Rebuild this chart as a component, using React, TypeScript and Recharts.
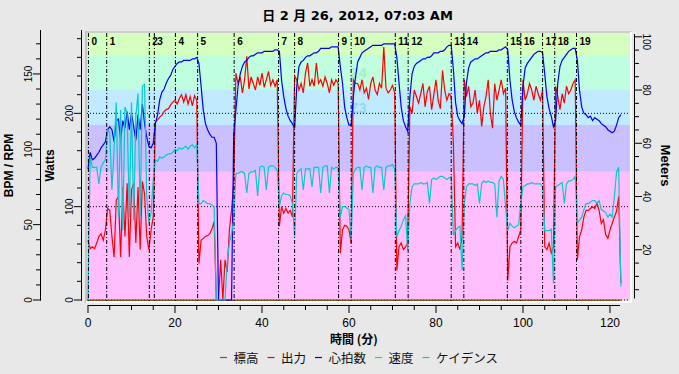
import { Line, LineChart, ReferenceArea, ReferenceLine, XAxis, YAxis } from 'recharts';

// one reading every half minute, t = 0 … 122.5 min
const SAMPLE_MIN = 0.5;

// 心拍数 (bpm)
const heartRate = [
  87, 98, 93, 94, 96, 98, 101, 103, 105, 113, 115, 113, 105, 119, 120, 106, 119, 114, 125, 113,
  124, 115, 106, 123, 113, 130, 117, 108, 102, 101, 104, 117, 123, 133, 138, 140, 144, 147, 149, 153,
  155, 157, 158, 158, 159, 159, 159, 159, 160, 160, 161, 157, 142, 126, 117, 113, 110, 108, 108, 104,
  0, 0, 0, 0, 0, 0, 0, 110, 126, 142, 150, 155, 158, 159, 161, 162, 162, 163, 164, 164,
  164, 165, 165, 165, 165, 165, 166, 166, 165, 146, 135, 127, 122, 119, 117, 114, 142, 155, 158, 159,
  161, 162, 162, 163, 164, 164, 165, 167, 167, 167, 167, 167, 168, 168, 168, 168, 155, 144, 128, 121,
  116, 116, 135, 148, 158, 161, 164, 165, 166, 167, 168, 169, 169, 169, 169, 169, 170, 170, 170, 170,
  170, 170, 161, 144, 128, 119, 115, 112, 135, 150, 155, 157, 158, 159, 160, 160, 161, 161, 162, 164,
  164, 164, 165, 165, 166, 168, 169, 169, 153, 131, 122, 119, 117, 122, 144, 154, 158, 159, 160, 160,
  161, 162, 163, 164, 164, 165, 165, 165, 165, 166, 166, 167, 168, 166, 146, 133, 125, 121, 118, 116,
  142, 154, 157, 159, 161, 163, 164, 165, 165, 164, 150, 135, 127, 122, 115, 119, 144, 155, 159, 161,
  163, 165, 166, 167, 167, 159, 139, 128, 124, 123, 121, 122, 119, 121, 120, 119, 117, 116, 115, 113,
  112, 111, 112, 116, 121, 123,
];

// 出力 (W)
const power = [
  64, 55, 57, 55, 61, 68, 71, 64, 75, 98, 96, 68, 46, 107, 111, 46, 121, 68, 125, 46,
  118, 125, 61, 121, 54, 127, 114, 68, 54, 75, 89, 191, 193, 196, 198, 202, 204, 205, 209, 212,
  214, 210, 216, 220, 212, 220, 210, 218, 208, 219, 214, 39, 64, 66, 68, 69, 71, 76, 84, 0,
  0, 43, 0, 43, 30, 75, 96, 125, 243, 232, 239, 222, 236, 261, 226, 239, 232, 225, 239, 230,
  243, 228, 236, 245, 230, 236, 229, 236, 79, 100, 93, 98, 93, 96, 89, 240, 236, 225, 232, 222,
  243, 254, 229, 236, 229, 254, 232, 236, 229, 239, 232, 222, 236, 230, 236, 232, 50, 75, 80, 79,
  75, 61, 236, 232, 232, 225, 236, 222, 227, 215, 232, 239, 225, 220, 232, 227, 271, 227, 222, 225,
  230, 222, 32, 57, 61, 54, 57, 61, 207, 200, 225, 218, 211, 221, 232, 207, 223, 229, 204, 220,
  236, 214, 205, 246, 225, 214, 221, 218, 168, 57, 61, 54, 68, 236, 218, 229, 207, 211, 225, 200,
  214, 186, 207, 218, 236, 200, 184, 232, 214, 225, 236, 221, 227, 21, 57, 61, 63, 61, 68, 75,
  236, 214, 221, 232, 225, 214, 229, 221, 214, 225, 57, 54, 61, 50, 57, 229, 218, 204, 221, 211,
  229, 221, 225, 232, 236, 43, 68, 75, 89, 96, 96, 98, 100, 98, 104, 96, 82, 86, 70, 66,
  75, 82, 89, 95, 111, 18,
];

// ケイデンス (rpm)
const cadence = [
  0, 95, 88, 88, 88, 77, 88, 91, 93, 113, 111, 73, 100, 131, 55, 126, 46, 128, 124, 55,
  131, 53, 122, 137, 55, 142, 143, 69, 51, 58, 80, 93, 92, 95, 94, 95, 96, 97, 97, 98,
  100, 99, 101, 100, 101, 102, 100, 102, 103, 101, 103, 64, 64, 66, 65, 64, 64, 63, 62, 0,
  0, 0, 0, 0, 25, 38, 44, 53, 84, 84, 85, 85, 84, 71, 84, 85, 85, 86, 69, 88,
  89, 88, 73, 88, 89, 89, 88, 86, 62, 69, 71, 70, 70, 69, 64, 42, 84, 86, 87, 73,
  87, 87, 87, 75, 88, 88, 88, 71, 88, 89, 89, 71, 88, 87, 88, 88, 55, 62, 62, 61,
  60, 40, 84, 87, 88, 88, 73, 88, 89, 88, 88, 71, 88, 89, 88, 88, 73, 88, 89, 89,
  90, 87, 42, 46, 49, 53, 56, 33, 64, 75, 77, 77, 77, 78, 77, 77, 78, 64, 80, 81,
  80, 81, 82, 82, 81, 80, 81, 82, 43, 46, 48, 49, 20, 64, 75, 77, 77, 77, 76, 77,
  64, 77, 79, 78, 79, 78, 78, 77, 55, 79, 82, 80, 62, 46, 51, 49, 48, 49, 50, 64,
  75, 76, 77, 77, 78, 77, 77, 77, 77, 75, 46, 46, 46, 47, 11, 75, 76, 77, 78, 64,
  77, 79, 79, 80, 82, 51, 53, 55, 60, 64, 64, 65, 66, 66, 64, 66, 60, 59, 58, 55,
  57, 55, 68, 85, 88, 9,
];

// 標高 (m) — flat for the whole ride
const elevTimes = [0, 122.5];
const elevMeters = [1, 1];

const intervalNames = ['0', '1', '2', '3', '4', '5', '6', '7', '8', '9', '10', '11', '12', '13', '14', '15', '16', '17', '18', '19'];
const intervalStarts = [0.1, 4.3, 14.1, 15.25, 20.1, 25.2, 33.6, 43.8, 47.5, 57.6, 60.5, 70.65, 73.6, 83.5, 86.4, 96.4, 99.5, 104.5, 107.3, 112.3];

const zoneNames = ['Z1', 'Z2', 'Z3', 'Z4', 'Z5'];
const zoneLows = [0, 137.5, 187.5, 225, 262.5];
const zoneHighs = [137.5, 187.5, 225, 262.5, 300];
const zoneFills = ['#ffbfff', '#cabfff', '#bfeaff', '#bfffdf', '#d4ffbf'];
const zoneTagColors = ['', '', '#98d6f4', '#a2f0c6', ''];

const xTicks = [0, 5, 10, 15, 20, 25, 30, 35, 40, 45, 50, 55, 60, 65, 70, 75, 80, 85, 90, 95, 100, 105, 110, 115, 120];
const wattTicks = [0, 20, 40, 60, 80, 100, 120, 140, 160, 180, 200, 220, 240, 260, 280];
const bpmTicks = [0, 10, 20, 30, 40, 50, 60, 70, 80, 90, 100, 110, 120, 130, 140, 150, 160, 170];
const meterTicks = [5, 10, 15, 20, 25, 30, 35, 40, 45, 50, 55, 60, 65, 70, 75, 80, 85, 90, 95, 100];
const wattGrid = [0, 100, 200];

const legendNames = ['標高', '出力', '心拍数', '速度', 'ケイデンス'];
const legendColors = ['#7c5b1f', '#ff0000', '#0000ff', '#00ff00', '#00cccc'];

// axis ranges so the canvas lines up with the axes drawn outside it
const X_DOMAIN: [number, number] = [-1.379, 125.52];
const WATT_DOMAIN: [number, number] = [-5.357, 289.3];
const BPM_DOMAIN: [number, number] = [-3.318, 179.16];
const METER_DOMAIN: [number, number] = [-0.75, 102.55];
const CANVAS_T: [number, number] = [-0.23, 124.6];
const CANVAS_W: [number, number] = [-0.75, 286.1];

// left axes are stacked by id: 'p' (watts) sits next to the canvas, 'r' (bpm/rpm) outside it
const WATTS = 'p';
const BPM = 'r';
const METERS = 'm';

const TICK_FONT = '"Liberation Sans", Arial, sans-serif';
const CJK_FONT = '"Noto Sans CJK JP", "Noto Sans", sans-serif';

const toSeries = (vals: number[]) => vals.map((v, i) => ({ t: i * SAMPLE_MIN, v }));
const hrData = toSeries(heartRate);
const powerData = toSeries(power);
const cadData = toSeries(cadence);
const elevData = elevTimes.map((t, i) => ({ t, v: elevMeters[i] }));

function LeftTick(props: any) {
  const { x, y, payload, step } = props;
  const v = payload.value;
  const major = v % step === 0;
  const lx = x - 13;
  return (
    <g>
      <line x1={x - (major ? 8 : 5)} x2={x} y1={y} y2={y} stroke='#000' />
      {major && (
        <g transform={`translate(${lx} ${y}) rotate(-90)`}>
          <text x={0} y={0} textAnchor='middle' dominantBaseline='central' fontSize={10}
            fontFamily={TICK_FONT} fill='#000'>
            {v}
          </text>
        </g>
      )}
    </g>
  );
}

function RightTick(props: any) {
  const { x, y, payload } = props;
  const v = payload.value;
  const major = v % 20 === 0;
  const lx = x + 12;
  const ly = v === 100 ? y + 5 : y;
  return (
    <g>
      <line x1={x} x2={x + (major ? 8 : 5)} y1={y} y2={y} stroke='#000' />
      {major && (
        <g transform={`translate(${lx} ${ly}) rotate(90)`}>
          <text x={0} y={0} textAnchor='middle' dominantBaseline='central' fontSize={10}
            fontFamily={TICK_FONT} fill='#000'>
            {v}
          </text>
        </g>
      )}
    </g>
  );
}

function BottomTick(props: any) {
  const { x, y, payload } = props;
  const v = payload.value;
  const major = v % 20 === 0;
  return (
    <g>
      <line x1={x} x2={x} y1={y} y2={y + (major ? 8 : 5)} stroke='#000' />
      {major && (
        <text x={x} y={y + 18} textAnchor='middle' dominantBaseline='central' fontSize={12}
          fontFamily={TICK_FONT} fill='#000'>
          {v}
        </text>
      )}
    </g>
  );
}

function AxisTitle(props: any) {
  const { viewBox, text, shiftX, turn, size } = props;
  const cx = viewBox.x + shiftX;
  const cy = viewBox.y + viewBox.height / 2 - 2;
  return (
    <g transform={`translate(${cx} ${cy}) rotate(${turn})`}>
      <text x={0} y={0} textAnchor='middle' dominantBaseline='central' fontSize={size}
        fontWeight='bold' fontFamily={TICK_FONT} fill='#000'>
        {text}
      </text>
    </g>
  );
}

function TimeTitle(props: any) {
  const { viewBox } = props;
  return (
    <text x={viewBox.x + viewBox.width / 2 - 4} y={viewBox.y + 33} textAnchor='middle'
      dominantBaseline='central' fontSize={12} fontWeight='bold' fontFamily={CJK_FONT} fill='#000'>
      時間 (分)
    </text>
  );
}

function IntervalTag(props: any) {
  const { viewBox, text } = props;
  return (
    <text x={viewBox.x + 3} y={viewBox.y + 12} fontSize={10} fontWeight='bold'
      fontFamily={TICK_FONT} fill='#000'>
      {text}
    </text>
  );
}

function ZoneTag(props: any) {
  const { viewBox, text, color } = props;
  return (
    <text x={viewBox.x + viewBox.width / 2} y={viewBox.y + viewBox.height / 2}
      textAnchor='middle' dominantBaseline='central' fontSize={14} fontWeight='bold'
      fontFamily={TICK_FONT} fill={color}>
      {text}
    </text>
  );
}

export default function App() {
  let legendX = 220;
  const legendItems = legendNames.map((name, i) => {
    const x0 = legendX;
    legendX += 7 + 6.5 + name.length * 12.5 + 9;
    return (
      <g key={name}>
        <line x1={x0} x2={x0 + 7} y1={357.5} y2={357.5} stroke={legendColors[i]} strokeWidth={1.2} />
        <text x={x0 + 13.5} y={357.5} dominantBaseline='central' fontSize={12.5}
          fontFamily={CJK_FONT} fill='#111'>
          {name}
        </text>
      </g>
    );
  });

  return (
    <div style={{ position: 'absolute', left: 0, top: 0, width: 679, height: 374, background: '#e8e8e8' }}>
      <LineChart width={679} height={374} margin={{ top: 30, right: 0, bottom: 0, left: 0 }}>
        <XAxis xAxisId='t' type='number' dataKey='t' domain={X_DOMAIN} allowDataOverflow
          ticks={xTicks} interval={0} height={69} tickSize={0} tickMargin={0}
          tickLine={false} axisLine={false} tick={<BottomTick />} label={<TimeTitle />} />
        <YAxis yAxisId={WATTS} orientation='left' type='number' width={41} domain={WATT_DOMAIN}
          allowDataOverflow ticks={wattTicks} interval={0} tickSize={0} tickMargin={0}
          tickLine={false} axisLine={false} tick={<LeftTick step={100} />}
          label={<AxisTitle text='Watts' shiftX={9} turn={-90} size={12} />} />
        <YAxis yAxisId={BPM} orientation='left' type='number' width={41} domain={BPM_DOMAIN}
          allowDataOverflow ticks={bpmTicks} interval={0} tickSize={0} tickMargin={0}
          tickLine={false} axisLine={false} tick={<LeftTick step={50} />}
          label={<AxisTitle text='BPM / RPM' shiftX={9} turn={-90} size={12} />} />
        <YAxis yAxisId={METERS} orientation='right' type='number' width={45} domain={METER_DOMAIN}
          allowDataOverflow ticks={meterTicks} interval={0} tickSize={0} tickMargin={0}
          tickLine={false} axisLine={false} tick={<RightTick />}
          label={<AxisTitle text='Meters' shiftX={31} turn={90} size={13} />} />

        {zoneNames.map((z, i) => (
          <ReferenceArea key={z} xAxisId='t' yAxisId={WATTS} x1={CANVAS_T[0]} x2={CANVAS_T[1]}
            y1={Math.max(zoneLows[i], CANVAS_W[0])} y2={Math.min(zoneHighs[i], CANVAS_W[1])}
            fill={zoneFills[i]} fillOpacity={1} stroke='none'
            label={zoneTagColors[i] ? <ZoneTag text={z} color={zoneTagColors[i]} /> : undefined} />
        ))}

        {wattGrid.map((w) => (
          <ReferenceLine key={`g${w}`} xAxisId='t' yAxisId={WATTS}
            segment={[{ x: CANVAS_T[0], y: w }, { x: CANVAS_T[1], y: w }]}
            stroke='#000' strokeDasharray='1 2' strokeWidth={1} />
        ))}

        <Line xAxisId='t' yAxisId={METERS} data={elevData} dataKey='v' type='linear'
          stroke='#7c5b1f' strokeWidth={1.5} dot={false} isAnimationActive={false} />
        <Line xAxisId='t' yAxisId={WATTS} data={powerData} dataKey='v' type='linear'
          stroke='#ff0000' strokeWidth={1.2} dot={false} isAnimationActive={false} />
        <Line xAxisId='t' yAxisId={BPM} data={hrData} dataKey='v' type='linear'
          stroke='#0000ff' strokeWidth={1.2} dot={false} isAnimationActive={false} />
        <Line xAxisId='t' yAxisId={BPM} data={cadData} dataKey='v' type='linear'
          stroke='#00cccc' strokeWidth={1.2} dot={false} isAnimationActive={false} />

        {intervalStarts.map((t, i) => (
          <ReferenceLine key={`iv${i}`} xAxisId='t' yAxisId={WATTS}
            segment={[{ x: t, y: CANVAS_W[1] }, { x: t, y: CANVAS_W[0] }]}
            stroke='#000' strokeDasharray='4 2 1 2' strokeWidth={1}
            label={<IntervalTag text={intervalNames[i]} />} />
        ))}
      </LineChart>

      <svg width={679} height={374} style={{ position: 'absolute', left: 0, top: 0, pointerEvents: 'none' }}>
        <text x={357.5} y={20} textAnchor='middle' fontSize={13} fontWeight='bold'
          fontFamily='"DejaVu Sans", "Noto Sans CJK JP", sans-serif' fill='#000'>
          日 2 月 26, 2012, 07:03 AM
        </text>
        {/* canvas frame */}
        <line x1={85} x2={632} y1={32} y2={32} stroke='#c4c4c4' strokeWidth={1.5} />
        <line x1={86} x2={86} y1={31} y2={303} stroke='#c4c4c4' strokeWidth={2} />
        <line x1={631} x2={631} y1={32} y2={303} stroke='#ffffff' strokeWidth={2} />
        <line x1={86} x2={632} y1={302} y2={302} stroke='#ffffff' strokeWidth={2} />
        {/* axis backbones */}
        <line x1={40.5} x2={40.5} y1={30} y2={300.5} stroke='#000' />
        <line x1={81.5} x2={81.5} y1={30} y2={300.5} stroke='#000' />
        <line x1={634.5} x2={634.5} y1={34} y2={298.5} stroke='#000' />
        <line x1={88} x2={620} y1={305.5} y2={305.5} stroke='#000' />
        {legendItems}
      </svg>
    </div>
  );
}
